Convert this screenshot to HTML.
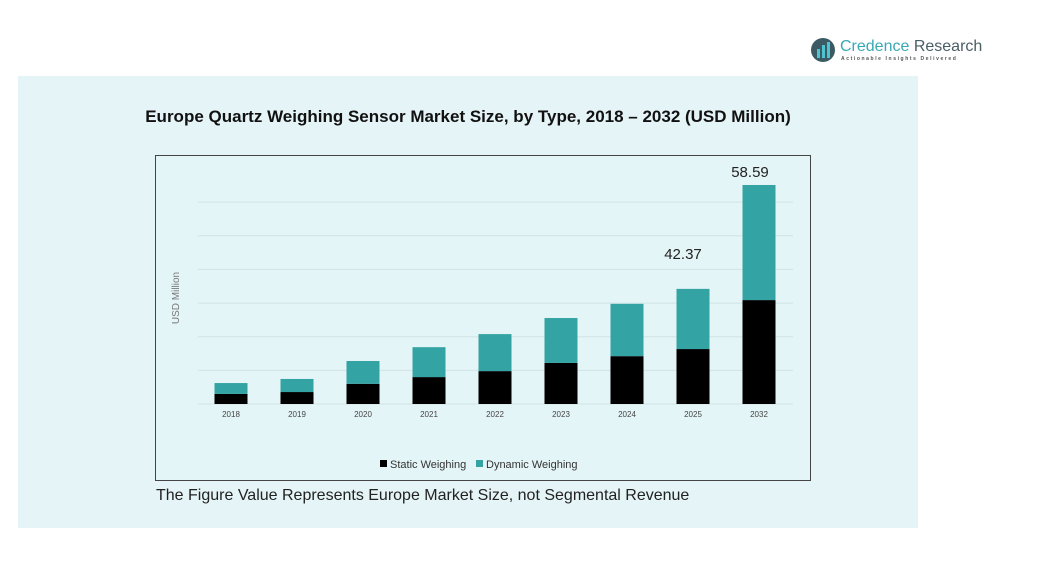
<!DOCTYPE html>
<html><head><meta charset="utf-8"><style>
body{margin:0;width:1055px;height:582px;background:#fff;position:relative;overflow:hidden;font-family:"Liberation Sans",sans-serif}
.abs{position:absolute}
</style></head><body>
<div class="abs" style="left:810px;top:37px;width:175px;height:30px">
<svg class="abs" style="left:0;top:0" width="26" height="26"><circle cx="13" cy="13" r="12" fill="#3c5a64"/><rect x="7" y="12" width="3" height="9" fill="#4fc3cf"/><rect x="12" y="8" width="3" height="13" fill="#4fc3cf"/><rect x="17" y="5" width="3" height="16" fill="#4fc3cf"/></svg>
<div class="abs" style="left:30px;top:1px;font-size:16px;color:#3aa9b5;white-space:nowrap">Credence <span style="color:#4a5e66">Research</span></div>
<div class="abs" style="left:31px;top:19px;font-size:5px;letter-spacing:1.6px;color:#555;white-space:nowrap;font-weight:bold">Actionable Insights Delivered</div>
</div>
<div class="abs" style="left:18px;top:76px;width:900px;height:452px;background:#e5f4f6"></div>
<div class="abs" style="left:18px;top:107px;width:900px;text-align:center;font-size:17px;font-weight:bold;color:#111">Europe Quartz Weighing Sensor Market Size, by Type, 2018 – 2032 (USD Million)</div>
<div class="abs" style="left:155px;top:155px;width:656px;height:326px;border:1px solid #444;box-sizing:border-box;background:#e4f5f7"></div>
<svg class="abs" style="left:0;top:0" width="1055" height="582" id="chart"></svg>
<div class="abs" style="left:156px;top:487px;font-size:16px;color:#222">The Figure Value Represents Europe Market Size, not Segmental Revenue</div>
<script>
const categories=["2018","2019","2020","2021","2022","2023","2024","2025","2032"];
const staticVals=[2.7,3.2,5.4,7.2,8.8,11.0,12.8,14.7,27.8];
const dynamicVals=[2.9,3.5,6.1,8.0,9.9,12.0,14.0,16.1,30.79];
const totalLabels=["","","","","","","","42.37","58.59"];
const gridTicks=[9,18,27,36,45,54];
const svg=document.getElementById('chart');
const NS='http://www.w3.org/2000/svg';
const y=v=>404-v*3.738;
const x=i=>231+i*66;
function mk(t,a){const e=document.createElementNS(NS,t);for(const k in a)e.setAttribute(k,a[k]);svg.appendChild(e);return e;}
gridTicks.forEach(g=>{const l=mk('line',{x1:198,x2:793,y1:y(g),y2:y(g),stroke:'#cfe3e6','stroke-width':1});

});
const base=mk('line',{x1:198,x2:793,y1:404,y2:404,stroke:'#cfe3e6'});


categories.forEach((c,i)=>{
const s=staticVals[i],d=dynamicVals[i];
const b1=mk('rect',{x:x(i)-16.5,width:33,y:y(s),height:404-y(s),fill:'#000'});


const b2=mk('rect',{x:x(i)-16.5,width:33,y:y(s+d),height:y(s)-y(s+d),fill:'#33a3a3'});


const t=mk('text',{x:x(i),y:417,'font-size':8,'text-anchor':'middle',fill:'#444'});t.textContent=c;


if(totalLabels[i]){const v=mk('text',{x:x(i)-(i===7?10:9),y:i===7?259:177,'font-size':15,'text-anchor':'middle',fill:'#222'});v.textContent=totalLabels[i];

}
});
const yt=mk('text',{x:179,y:298,'font-size':10,fill:'#777','text-anchor':'middle',transform:'rotate(-90 179 298)'});yt.textContent='USD Million';


const l1=mk('rect',{x:380,y:460,width:7,height:7,fill:'#000'});


const t1=mk('text',{x:390,y:468,'font-size':11,fill:'#333'});t1.textContent='Static Weighing';


const l2=mk('rect',{x:476,y:460,width:7,height:7,fill:'#33a3a3'});


const t2=mk('text',{x:486,y:468,'font-size':11,fill:'#333'});t2.textContent='Dynamic Weighing';


</script>
</body></html>
